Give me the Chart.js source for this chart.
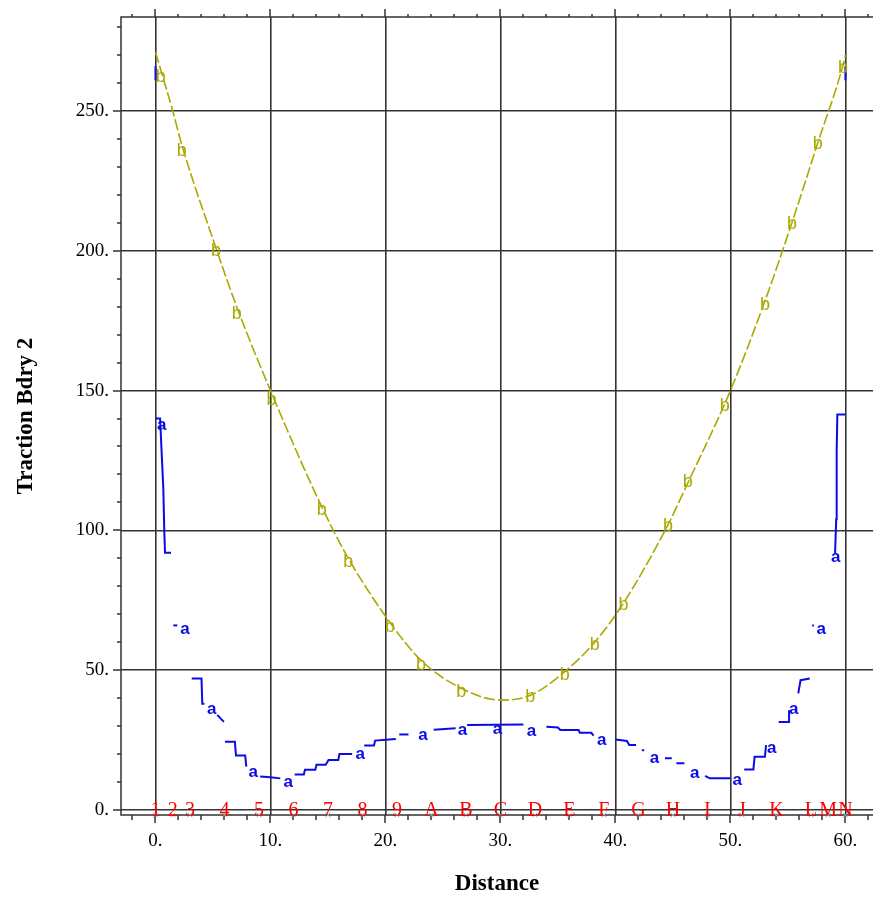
<!DOCTYPE html>
<html>
<head>
<meta charset="utf-8">
<title>Traction Bdry 2</title>
<script src="https://cdn.jsdelivr.net/npm/chart.js@4.4.0/dist/chart.umd.min.js"></script>
<style>
  html, body { margin: 0; padding: 0; background: #fff; }
  #wrap { width: 873px; height: 898px; position: relative; }
</style>
</head>
<body>
<div id="wrap"><canvas id="tractionChart"></canvas></div>
<script>
// boundary nodes and their tags
const nodeX = [0, 1.5, 3, 6, 9, 12, 15, 18, 21, 24, 27, 30, 33, 36, 39, 42, 45, 48, 51, 54, 57, 58.5, 60];
const nodeTags = ['1', '2', '3', '4', '5', '6', '7', '8', '9', 'A', 'B', 'C', 'D', 'E', 'F', 'G', 'H', 'I', 'J', 'K', 'L', 'M', 'N'];

// curve b
const bDist = [0, 1.5, 2.28, 5.26, 7.06, 10, 14.45, 16.77, 20.4, 23.1, 26.6, 30, 32.6, 35.6, 38.2, 40.7, 44.57, 46.3, 50, 53, 55.35, 57.6, 59.8, 60];
const bTraction = [271, 250, 238, 201, 180, 150, 108.5, 90, 67, 53.5, 43.5, 39.3, 41, 49.5, 60, 74, 102, 117, 150, 182, 210, 238.6, 266.5, 270];
const bLabelX = [0.45, 2.28, 5.26, 7.06, 10.1, 14.45, 16.77, 20.4, 23.1, 26.6, 32.6, 35.6, 38.2, 40.7, 44.57, 46.3, 49.5, 53, 55.35, 57.6, 59.8];
const bLabelY = [262.5, 236.3, 200.6, 178, 147, 107.7, 89.3, 66, 52.4, 42.9, 41, 48.8, 59.5, 73.8, 102, 117.9, 145, 181, 210, 238.6, 266];

// curve a, element by element (it jumps between elements)
const aSegments = [
  [[0, 266], [0, 261]],
  [[0, 140], [0.4, 140], [0.5, 131], [0.68, 115], [0.77, 99], [0.83, 92], [1.35, 92]],
  [[1.55, 66], [1.9, 66]],
  [[3.15, 47], [4.0, 47], [4.07, 38], [4.25, 38]],
  [[5.37, 34], [5.95, 31.5]],
  [[6.04, 24.4], [6.9, 24.4], [7.0, 19.5], [7.8, 19.5], [7.9, 15.5]],
  [[9.1, 12], [10.0, 11.7], [10.85, 11.3]],
  [[12.1, 12.7], [12.9, 12.7], [13.0, 14.4], [13.9, 14.4], [14.0, 16.2], [14.8, 16.2], [15.05, 17.9], [15.9, 17.9], [16.0, 20], [17.1, 20]],
  [[18.15, 23.1], [19.0, 23.1], [19.1, 24.8], [20.9, 25.4]],
  [[21.2, 27], [22.0, 27]],
  [[24.2, 28.7], [26.1, 29.2]],
  [[27.1, 30.4], [32.0, 30.6]],
  [[34.0, 29.8], [35.0, 29.5], [35.2, 28.6], [36.8, 28.6], [36.9, 27.6], [37.9, 27.6], [38.1, 26.6]],
  [[40.0, 25.2], [41.0, 24.7], [41.2, 23.2], [41.8, 23.2]],
  [[42.3, 21.5], [42.5, 21.3]],
  [[44.3, 18.5], [44.9, 18.5]],
  [[45.3, 16.7], [46.0, 16.7]],
  [[47.8, 12.2], [48.2, 11.3], [50.0, 11.3]],
  [[51.2, 14.5], [52.0, 14.5], [52.1, 19], [53.0, 19], [53.1, 23.2]],
  [[54.2, 31.5], [55.1, 31.5], [55.1, 35.7]],
  [[55.9, 41.7], [56.1, 46.4], [56.9, 47]],
  [[57.1, 66], [57.25, 66]],
  [[59.1, 91.7], [59.2, 104], [59.24, 128.6], [59.3, 141.4], [60, 141.4]],
  [[60, 266], [60, 261]]
];
const aLabelX = [0.54, 2.57, 4.89, 8.5, 11.55, 17.8, 23.26, 26.7, 29.74, 32.7, 38.8, 43.4, 46.9, 50.6, 53.6, 55.5, 57.9, 59.16];
const aLabelY = [137.5, 64.6, 36, 13.3, 9.75, 19.8, 26.8, 28.3, 28.8, 28.2, 24.75, 18.5, 13.1, 10.7, 22, 36, 64.5, 90.2];

// axis ranges and ticks
const xMin = -3, xMax = 62.4;
const yMin = -1.8, yMax = 283.6;
const xTickVals = [];
for (let v = -2; v <= 62; v += 2) xTickVals.push(v);
const yTickVals = [];
for (let v = 0; v <= 280; v += 10) yTickVals.push(v);

const aColor = '#0b0be8';
const bColor = '#a9a900';
const gridColor = '#333';
const serif = "'Liberation Serif', 'Times New Roman', serif";
const sans = "'Liberation Sans', Arial, sans-serif";

const datasets = [];
datasets.push({
  label: 'b',
  data: bDist.map((d, i) => ({ x: d, y: bTraction[i] })),
  showLine: true,
  borderColor: bColor,
  borderWidth: 1.6,
  borderDash: [11, 3],
  pointRadius: 0,
  cubicInterpolationMode: 'monotone'
});
aSegments.forEach(seg => {
  datasets.push({
    label: 'a',
    data: seg.map(([x, y]) => ({ x, y })),
    showLine: true,
    borderColor: aColor,
    borderWidth: 2,
    pointRadius: 0,
    tension: 0
  });
});
datasets.push({
  label: 'nodes',
  data: nodeX.map(x => ({ x, y: yMin })),
  showLine: false,
  pointStyle: 'crossRot',
  pointRadius: 3.5,
  borderColor: '#72bcc4',
  borderWidth: 1,
  clip: false
});

// box, outward tick marks
const frame = {
  id: 'frame',
  beforeDatasetsDraw(chart) {
    const { ctx, chartArea: a, scales: { x, y } } = chart;
    ctx.save();
    ctx.strokeStyle = gridColor;
    ctx.lineWidth = 1.5;
    ctx.beginPath();
    ctx.moveTo(a.right, a.top);
    ctx.lineTo(a.left, a.top);
    ctx.lineTo(a.left, a.bottom);
    ctx.lineTo(a.right, a.bottom);
    xTickVals.forEach(v => {
      const px = Math.round(x.getPixelForValue(v));
      const major = v % 10 === 0;
      ctx.moveTo(px, a.bottom);
      ctx.lineTo(px, a.bottom + (major ? 8 : 5));
      ctx.moveTo(px, a.top);
      ctx.lineTo(px, a.top - (major ? 8 : 3));
    });
    yTickVals.forEach(v => {
      const py = Math.round(y.getPixelForValue(v));
      ctx.moveTo(a.left, py);
      ctx.lineTo(a.left - (v % 50 === 0 ? 8 : 4), py);
    });
    ctx.stroke();
    ctx.restore();
  }
};

// letter markers on the curves and node tags along the bottom
const textMarks = {
  id: 'textMarks',
  afterDatasetsDraw(chart) {
    const { ctx, scales: { x, y } } = chart;
    ctx.save();
    ctx.textAlign = 'center';
    ctx.textBaseline = 'alphabetic';

    ctx.font = '18px ' + sans;
    ctx.fillStyle = bColor;
    bLabelX.forEach((v, i) => {
      ctx.fillText('b', x.getPixelForValue(v), y.getPixelForValue(bLabelY[i]) + 6.5);
    });
    ctx.font = 'bold 17px ' + sans;
    ctx.fillStyle = aColor;
    aLabelX.forEach((v, i) => {
      ctx.fillText('a', x.getPixelForValue(v), y.getPixelForValue(aLabelY[i]) + 4.5);
    });

    ctx.font = '20px ' + serif;
    ctx.fillStyle = '#ff0000';
    nodeX.forEach((v, i) => {
      ctx.fillText(nodeTags[i], x.getPixelForValue(v), y.getPixelForValue(0.3) + 6.8);
    });
    ctx.restore();
  }
};

new Chart(document.getElementById('tractionChart'), {
  type: 'scatter',
  data: { datasets },
  options: {
    responsive: true,
    maintainAspectRatio: false,
    animation: false,
    layout: { autoPadding: false, padding: { top: 17, right: 0, bottom: 0, left: 0 } },
    plugins: {
      legend: { display: false },
      tooltip: { enabled: false }
    },
    scales: {
      x: {
        type: 'linear',
        min: xMin,
        max: xMax,
        afterBuildTicks: s => { s.ticks = xTickVals.map(v => ({ value: v })); },
        afterFit: s => {
          s.height = 83;
          s.paddingLeft = 0;
          s.paddingRight = 0;
        },
        border: { display: false },
        grid: {
          drawTicks: false,
          lineWidth: 1.6,
          color: c => (c.tick && c.tick.value % 10 === 0 ? gridColor : 'rgba(0,0,0,0)')
        },
        ticks: {
          autoSkip: false,
          maxRotation: 0,
          padding: 15,
          color: '#000',
          font: { family: serif, size: 19 },
          callback: v => (v % 10 === 0 ? v + '.' : '')
        },
        title: {
          display: true,
          text: 'Distance',
          color: '#000',
          font: { family: serif, size: 23, weight: 'bold' },
          padding: { top: 0, bottom: 0 }
        }
      },
      y: {
        type: 'linear',
        min: yMin,
        max: yMax,
        afterBuildTicks: s => { s.ticks = yTickVals.map(v => ({ value: v })); },
        afterFit: s => {
          s.width = 121;
          s.paddingTop = 0;
          s.paddingBottom = 0;
        },
        border: { display: false },
        grid: {
          drawTicks: false,
          lineWidth: 1.6,
          color: c => (c.tick && c.tick.value % 50 === 0 ? gridColor : 'rgba(0,0,0,0)')
        },
        ticks: {
          autoSkip: false,
          padding: 12,
          color: '#000',
          font: { family: serif, size: 19 },
          callback: v => (v % 50 === 0 ? v + '.' : '')
        },
        title: {
          display: true,
          text: 'Traction Bdry 2',
          color: '#000',
          font: { family: serif, size: 23, weight: 'bold' },
          padding: { top: 12, bottom: 0 }
        }
      }
    }
  },
  plugins: [frame, textMarks]
});
</script>
</body>
</html>
